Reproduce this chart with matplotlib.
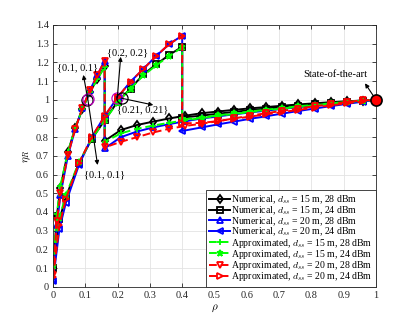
import matplotlib
matplotlib.use("Agg")
import matplotlib.pyplot as plt

plt.rcParams['font.family'] = ['Liberation Serif', 'DejaVu Serif']
plt.rcParams['mathtext.fontset'] = 'cm'

# ---- data ----
rho_28 = [0, 0.012, 0.023, 0.046, 0.069, 0.091, 0.114, 0.137, 0.16, 0.16, 0.21, 0.26, 0.31,
          0.36, 0.41, 0.46, 0.51, 0.56, 0.61, 0.66, 0.71, 0.76, 0.81, 0.86, 0.91, 0.96, 1.0]
rho_24 = [0, 0.02, 0.04, 0.08, 0.12, 0.16, 0.2, 0.24, 0.28, 0.32, 0.36, 0.4, 0.4, 0.46,
          0.51, 0.56, 0.61, 0.66, 0.71, 0.76, 0.81, 0.86, 0.91, 0.96, 1.0]

num_15_28 = [0.10, 0.38, 0.53, 0.72, 0.85, 0.95, 1.04, 1.11, 1.18, 0.78, 0.838, 0.865, 0.883,
             0.90, 0.915, 0.928, 0.937, 0.946, 0.954, 0.961, 0.968, 0.975, 0.981, 0.987, 0.992, 0.996, 1.0]
num_15_24 = [0.10, 0.36, 0.48, 0.66, 0.79, 0.89, 0.99, 1.06, 1.136, 1.19, 1.24, 1.284, 0.905,
             0.915, 0.925, 0.935, 0.944, 0.953, 0.961, 0.969, 0.977, 0.984, 0.99, 0.996, 1.0]
num_20_28 = [0.04, 0.33, 0.49, 0.70, 0.845, 0.955, 1.05, 1.13, 1.21, 0.74, 0.80, 0.83, 0.852,
             0.87, 0.885, 0.90, 0.911, 0.922, 0.932, 0.942, 0.951, 0.96, 0.969, 0.978, 0.986, 0.994, 1.0]
num_20_24 = [0.03, 0.31, 0.45, 0.65, 0.80, 0.913, 1.013, 1.097, 1.165, 1.235, 1.298, 1.343, 0.833,
             0.852, 0.868, 0.883, 0.898, 0.912, 0.926, 0.94, 0.953, 0.966, 0.978, 0.99, 1.0]
app_15_28 = [0.11, 0.39, 0.54, 0.72, 0.85, 0.95, 1.04, 1.11, 1.175, 0.775, 0.82, 0.845, 0.862,
             0.877, 0.89, 0.902, 0.913, 0.924, 0.934, 0.944, 0.953, 0.962, 0.971, 0.98, 0.988, 0.995, 1.0]
app_15_24 = [0.11, 0.37, 0.49, 0.665, 0.79, 0.89, 0.985, 1.06, 1.13, 1.185, 1.235, 1.28, 0.895,
             0.905, 0.916, 0.927, 0.937, 0.947, 0.956, 0.965, 0.973, 0.981, 0.988, 0.995, 1.0]
app_20_28 = [0.06, 0.35, 0.50, 0.705, 0.845, 0.955, 1.05, 1.13, 1.21, 0.745, 0.775, 0.80, 0.825,
             0.845, 0.86, 0.872, 0.885, 0.90, 0.915, 0.928, 0.941, 0.953, 0.965, 0.976, 0.988, 0.997, 1.0]
app_20_24 = [0.05, 0.33, 0.47, 0.66, 0.80, 0.913, 1.013, 1.097, 1.165, 1.235, 1.298, 1.343, 0.874,
             0.876, 0.886, 0.898, 0.91, 0.922, 0.934, 0.946, 0.958, 0.97, 0.981, 0.991, 1.0]

labels = [
    r'Numerical, $d_{ss}$ = 15 m, 28 dBm',
    r'Numerical, $d_{ss}$ = 15 m, 24 dBm',
    r'Numerical, $d_{ss}$ = 20 m, 28 dBm',
    r'Numerical, $d_{ss}$ = 20 m, 24 dBm',
    r'Approximated, $d_{ss}$ = 15 m, 28 dBm',
    r'Approximated, $d_{ss}$ = 15 m, 24 dBm',
    r'Approximated, $d_{ss}$ = 20 m, 28 dBm',
    r'Approximated, $d_{ss}$ = 20 m, 24 dBm',
]

xticks = [0, 0.1, 0.2, 0.3, 0.4, 0.5, 0.6, 0.7, 0.8, 0.9, 1]
xticklabels = ['0', '0.1', '0.2', '0.3', '0.4', '0.5', '0.6', '0.7', '0.8', '0.9', '1']
yticks = [0, 0.1, 0.2, 0.3, 0.4, 0.5, 0.6, 0.7, 0.8, 0.9, 1.0, 1.1, 1.2, 1.3, 1.4]
yticklabels = ['0', '0.1', '0.2', '0.3', '0.4', '0.5', '0.6', '0.7', '0.8', '0.9', '1',
               '1.1', '1.2', '1.3', '1.4']

fig = plt.figure(figsize=(4.15, 3.22), dpi=100)
ax = fig.add_axes([0.1277, 0.1096, 0.9060 - 0.1277, 0.9224 - 0.1096])

series = [
    (rho_28, num_15_28, 'k', '-', 'd'),
    (rho_24, num_15_24, 'k', '-', 's'),
    (rho_28, num_20_28, 'b', '-', '^'),
    (rho_24, num_20_24, 'b', '-', '<'),
    (rho_28, app_15_28, '#00ff00', '--', '+'),
    (rho_24, app_15_24, '#00ff00', '--', '*'),
    (rho_28, app_20_28, 'r', '--', 'v'),
    (rho_24, app_20_24, 'r', '--', '>'),
]
for (x, y, c, ls, m), lab in zip(series, labels):
    ax.plot(x, y, color=c, linestyle=ls, marker=m, markersize=4.5, linewidth=1.4,
            markerfacecolor='none', markeredgewidth=1.3, label=lab,
            dashes=(4, 2) if ls == '--' else (None, None))

# circles
ax.plot([0.105], [1.0], 'o', markersize=8, markerfacecolor='none', markeredgecolor='k', mew=0.9)
ax.plot([0.107], [1.005], 'o', markersize=8, markerfacecolor='none', markeredgecolor='m', mew=0.9)
ax.plot([0.199], [1.011], 'o', markersize=8, markerfacecolor='none', markeredgecolor='m', mew=0.9)
ax.plot([0.2127], [1.008], 'o', markersize=8, markerfacecolor='none', markeredgecolor='k', mew=0.9)
ax.plot([1.0], [1.0], 'o', markersize=8, markerfacecolor='r', markeredgecolor='k', mew=1.2,
        clip_on=False, zorder=5)

ap = dict(arrowstyle='-|>', color='k', lw=0.8, mutation_scale=6, shrinkA=0, shrinkB=0)
fs = 7.5
ax.annotate('', xy=(0.094, 1.133), xytext=(0.1074, 1.008), arrowprops=ap)
ax.annotate('', xy=(0.138, 0.651), xytext=(0.1074, 1.008), arrowprops=ap)
ax.annotate('', xy=(0.2096, 1.23), xytext=(0.199, 1.011), arrowprops=ap)
ax.annotate('', xy=(0.3105, 0.972), xytext=(0.2127, 1.008), arrowprops=ap)
ax.annotate('', xy=(0.966, 1.088), xytext=(1.0, 1.0), arrowprops=ap)
ax.text(0.077, 1.173, '{0.1, 0.1}', fontsize=fs, ha='center', va='center')
ax.text(0.161, 0.598, '{0.1, 0.1}', fontsize=fs, ha='center', va='center')
ax.text(0.232, 1.253, '{0.2, 0.2}', fontsize=fs, ha='center', va='center')
ax.text(0.278, 0.945, '{0.21, 0.21}', fontsize=fs, ha='center', va='center')
ax.text(0.875, 1.133, 'State-of-the-art', fontsize=fs, ha='center', va='center')

ax.set_xlim(0, 1)
ax.set_ylim(0, 1.4)
ax.set_xticks(xticks)
ax.set_xticklabels(xticklabels)
ax.set_yticks(yticks)
ax.set_yticklabels(yticklabels)
ax.tick_params(direction='in', length=3, width=0.6, top=True, right=True,
               labelsize=7.5, colors='#262626', pad=3)
ax.grid(True, color='#e3e3e3', linewidth=0.6)
ax.set_axisbelow(True)
for s in ax.spines.values():
    s.set_color('#262626')
    s.set_linewidth(0.6)

ax.set_xlabel(r'$\rho$', fontsize=8, labelpad=2)
ax.set_ylabel(r'$\eta_R$', fontsize=8, labelpad=2)

leg = ax.legend(loc='lower right', fontsize=7.0, numpoints=1, handlelength=2.2,
                handletextpad=0.1, borderaxespad=0, borderpad=0.35, labelspacing=-0.18,
                fancybox=False, edgecolor='#262626', framealpha=1)
leg.get_frame().set_linewidth(0.6)

fig.savefig('out.png', dpi=100)
